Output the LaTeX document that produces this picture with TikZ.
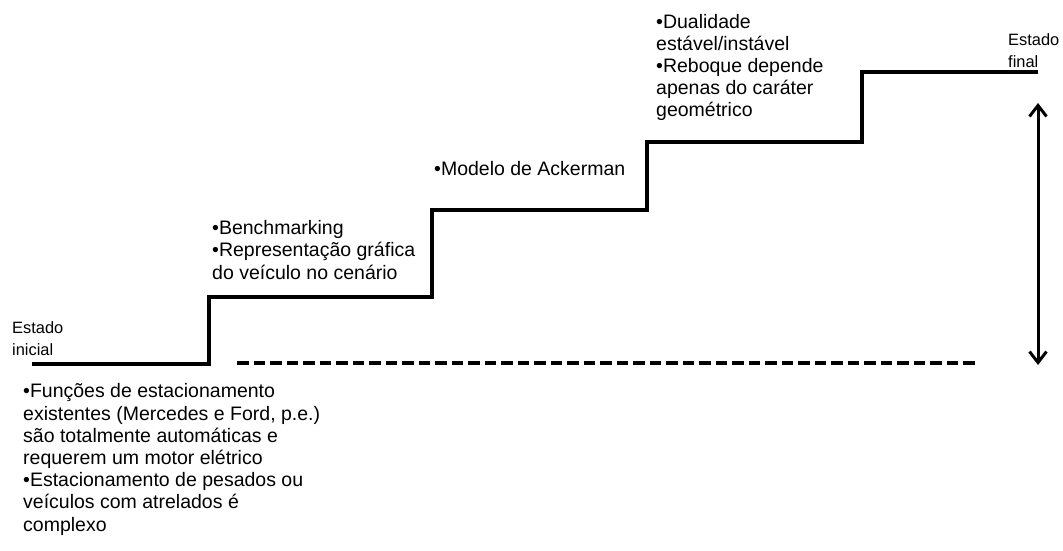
\documentclass[tikz,border=0pt]{standalone}
\usepackage{fontspec}
\setmainfont{Liberation Sans}
\usetikzlibrary{arrows.meta}
\begin{document}
\begin{tikzpicture}[x=1pt,y=-1pt,
  note/.style={anchor=base west,inner sep=0pt,align=left,
    font=\fontsize{19.5}{22.2}\selectfont},
  endlabel/.style={anchor=base west,inner sep=0pt,align=left,
    font=\fontsize{16.4}{21.8}\selectfont},
  stair/.style={line width=4pt,line join=miter},
  gap/.style={line width=4pt,dash pattern=on 11.5pt off 5pt},
  span/.style={line width=3pt,{Straight Barb[length=11pt,width=17pt,line width=3pt]}-{Straight Barb[length=11pt,width=17pt,line width=3pt]}}]
\useasboundingbox (0,0) rectangle (1063,551);
\fill[white] (0,0) rectangle (1063,551);

% corners of the staircase
\coordinate (s0) at (32,364);
\coordinate (s1) at (209,364);
\coordinate (s2) at (209,297);
\coordinate (s3) at (432,297);
\coordinate (s4) at (432,210);
\coordinate (s5) at (647,210);
\coordinate (s6) at (647,142);
\coordinate (s7) at (862,142);
\coordinate (s8) at (862,72);
\coordinate (s9) at (1038,72);
\draw[stair] (s0) -- (s1) -- (s2) -- (s3) -- (s4) -- (s5) -- (s6) -- (s7) -- (s8) -- (s9);

% baseline level and overall rise
\coordinate (g0) at (237,363);
\coordinate (g1) at (975,363);
\draw[gap] (g0) -- (g1);
\coordinate (r0) at (1038,103);
\coordinate (r1) at (1038,365);
\draw[span] (r0) -- (r1);

% end labels (positioned by the baseline of their last line)
\node[endlabel] (ini) at (12,355) {Estado\\inicial};
\node[endlabel] (fin) at (1008,67) {Estado\\final};

% step descriptions (positioned by the baseline of their last line)
\node[note] (n0) at (23,531) {•Funções de estacionamento\\existentes (Mercedes e Ford, p.e.)\\são totalmente automáticas e\\requerem um motor elétrico\\•Estacionamento de pesados ou\\veículos com atrelados é\\complexo};
\node[note] (n1) at (212,279) {•Benchmarking\\•Representação gráfica\\do veículo no cenário};
\node[note] (n2) at (434,175) {•Modelo de Ackerman};
\node[note] (n3) at (656,117) {•Dualidade\\estável/instável\\•Reboque depende\\apenas do caráter\\geométrico};
\end{tikzpicture}
\end{document}
